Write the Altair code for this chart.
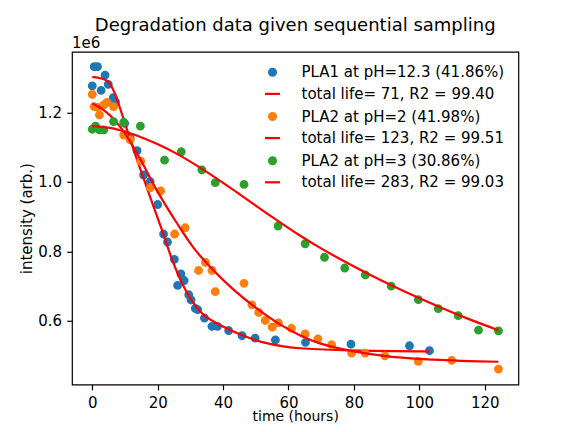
import altair as alt
import pandas as pd

# ---------------- data ----------------
pla1_t = [0.0, 0.6, 1.6, 2.7, 3.9, 4.9, 6.4, 7.1, 9.9, 11.6, 13.7, 15.7, 17.7, 20.0,
          21.8, 23.0, 25.1, 26.1, 27.1, 28.1, 29.5, 30.2, 31.5, 32.2, 34.3, 36.6,
          38.3, 41.7, 45.8, 49.8, 56.0, 65.2, 79.1, 97.0, 103.1]
pla1_v = [1.277, 1.332, 1.332, 1.264, 1.308, 1.281, 1.243, 1.231, 1.169, 1.126, 1.090,
          1.020, 1.001, 0.935, 0.850, 0.827, 0.777, 0.702, 0.735, 0.716, 0.675, 0.660,
          0.636, 0.632, 0.608, 0.584, 0.584, 0.572, 0.557, 0.550, 0.545, 0.538, 0.533,
          0.528, 0.514]

pla2_ph2_t = [0.0, 0.6, 1.6, 2.2, 3.5, 4.5, 6.5, 9.6, 11.6, 14.8, 17.8, 20.9, 25.2, 28.4,
              32.5, 34.6, 36.6, 37.6, 46.4, 48.8, 50.9, 52.9, 55.0, 56.9, 60.9, 65.1,
              69.0, 73.2, 79.3, 83.4, 89.5, 99.7, 109.9, 124.2]
pla2_ph2_v = [1.252, 1.217, 1.215, 1.193, 1.222, 1.229, 1.217, 1.135, 1.121, 1.060, 0.984,
              0.974, 0.850, 0.868, 0.745, 0.768, 0.745, 0.684, 0.708, 0.646, 0.624, 0.601,
              0.582, 0.594, 0.578, 0.562, 0.548, 0.531, 0.507, 0.507, 0.499, 0.483, 0.486,
              0.461]

pla2_ph3_t = [0.0, 1.0, 2.2, 3.5, 6.5, 9.6, 14.7, 22.1, 27.2, 33.5, 37.6, 46.4, 56.8,
              65.1, 71.0, 77.2, 83.5, 91.4, 99.7, 105.8, 111.9, 118.1, 124.2]
pla2_ph3_v = [1.152, 1.161, 1.150, 1.150, 1.174, 1.172, 1.161, 1.063, 1.087, 1.035, 0.998,
              0.993, 0.873, 0.822, 0.783, 0.752, 0.732, 0.700, 0.661, 0.635, 0.615, 0.573,
              0.571]

fit1_t = [0.0, 2.8, 4.9, 6.9, 9.0, 11.0, 13.1, 15.7, 18.7, 21.3, 24.4, 29.0, 33.0, 39.1,
          46.3, 51.4, 57.5, 63.6, 78.9, 103.1]
fit1_v = [1.303, 1.298, 1.289, 1.255, 1.198, 1.140, 1.080, 1.010, 0.930, 0.862, 0.776,
          0.680, 0.627, 0.588, 0.557, 0.540, 0.528, 0.521, 0.515, 0.512]

fit2_t = [0.0, 3.9, 6.9, 10.0, 12.0, 15.1, 19.8, 25.9, 31.0, 37.1, 43.2, 50.4, 57.0,
          63.6, 69.6, 73.8, 89.1, 104.4, 124.2]
fit2_v = [1.226, 1.204, 1.178, 1.140, 1.110, 1.058, 0.975, 0.881, 0.810, 0.745, 0.690,
          0.635, 0.592, 0.558, 0.535, 0.524, 0.499, 0.488, 0.482]

fit3_t = [0.0, 5.9, 12.0, 19.2, 24.9, 32.0, 39.1, 45.3, 54.4, 63.6, 69.7, 73.8, 84.0,
          94.2, 104.4, 114.6, 124.2]
fit3_v = [1.161, 1.155, 1.139, 1.112, 1.086, 1.047, 1.003, 0.963, 0.903, 0.845, 0.810,
          0.788, 0.737, 0.690, 0.647, 0.607, 0.573]

point_labels = ["PLA1 at pH=12.3 (41.86%)", "PLA2 at pH=2 (41.98%)", "PLA2 at pH=3 (30.86%)"]
fit_labels = ["total life= 71, R2 = 99.40", "total life= 123, R2 = 99.51",
              "total life= 283, R2 = 99.03"]
point_colors = ["#1f77b4", "#ff7f0e", "#2ca02c"]
fit_color = "#ff0000"

x_ticks = [0, 20, 40, 60, 80, 100, 120]
y_ticks = [0.6, 0.8, 1.0, 1.2]

# ---------------- tables ----------------
pt_series = [(pla1_t, pla1_v), (pla2_ph2_t, pla2_ph2_v), (pla2_ph3_t, pla2_ph3_v)]
fit_series = [(fit1_t, fit1_v), (fit2_t, fit2_v), (fit3_t, fit3_v)]

legend_domain = []
legend_colors = []
legend_shapes = []
for i in range(3):
    legend_domain += [point_labels[i], fit_labels[i]]
    legend_colors += [point_colors[i], fit_color]
    legend_shapes += ["circle", "M-2.2,0H2.2"]

color_scale = alt.Scale(domain=legend_domain, range=legend_colors)
shape_scale = alt.Scale(domain=legend_domain, range=legend_shapes)

x_enc = alt.X("t:Q", scale=alt.Scale(domain=[-6.2, 130.3], nice=False, zero=False),
              axis=alt.Axis(values=x_ticks, title="time (hours)", format="d"))
y_enc = alt.Y("v:Q", scale=alt.Scale(domain=[0.4165, 1.375], nice=False, zero=False),
              axis=alt.Axis(values=y_ticks, title="intensity (arb.)", format=".1f"))

layers = []
for i in range(3):
    pdf = pd.DataFrame({"t": pt_series[i][0], "v": pt_series[i][1], "label": point_labels[i]})
    fdf = pd.DataFrame({"t": fit_series[i][0], "v": fit_series[i][1], "label": fit_labels[i]})
    pts = alt.Chart(pdf).mark_point(filled=True, size=47, strokeWidth=2, opacity=1).encode(
        x=x_enc, y=y_enc,
        fill=alt.Fill("label:N", scale=color_scale, title=None),
        stroke=alt.Stroke("label:N", scale=color_scale, title=None),
        shape=alt.Shape("label:N", scale=shape_scale, title=None),
    )
    line = alt.Chart(fdf).mark_line(strokeWidth=2.2, interpolate="monotone").encode(
        x=x_enc, y=y_enc,
        stroke=alt.Stroke("label:N", scale=color_scale, title=None),
    )
    layers += [pts, line]

offset_text = alt.Chart(pd.DataFrame({"txt": ["1e6"]})).mark_text(
    align="left", baseline="alphabetic", fontSize=15, font="DejaVu Sans", color="black"
).encode(x=alt.value(0), y=alt.value(-4), text="txt:N")
layers.append(offset_text)

chart = alt.layer(*layers).properties(
    width=446.4,
    height=332.7,
    padding={"left": 64, "top": 43.8, "right": 49.6, "bottom": 39.5},
    autosize=alt.AutoSizeParams(type="none"),
    title=alt.TitleParams(
        "Degradation data given sequential sampling",
        fontSize=18, font="DejaVu Sans", fontWeight="normal", color="black",
        anchor="middle", frame="group", offset=0.5,
    ),
).configure(
    background="white",
    font="DejaVu Sans",
).configure_view(
    stroke="black", strokeWidth=1.2,
).configure_axis(
    domain=False, grid=False,
    tickColor="black", tickSize=5.25, tickWidth=1.2,
    labelColor="black", labelFont="DejaVu Sans", labelFontSize=15, labelPadding=5.25,
    titleColor="black", titleFont="DejaVu Sans", titleFontSize=15, titleFontWeight="normal",
).configure_axisX(
    titlePadding=10, titleBaseline="alphabetic", titleFontSize=14,
).configure_axisY(
    titlePadding=3.5,
).configure_legend(
    orient="top-right", offset=13, padding=0, rowPadding=5.6,
    labelOffset=21.5, symbolStrokeWidth=2.2, symbolSize=47, symbolOpacity=1,
    labelFont="DejaVu Sans", labelFontSize=15, labelColor="black", labelLimit=0,
)

chart.save("out.html", embed_options={"renderer": "svg", "actions": False})
